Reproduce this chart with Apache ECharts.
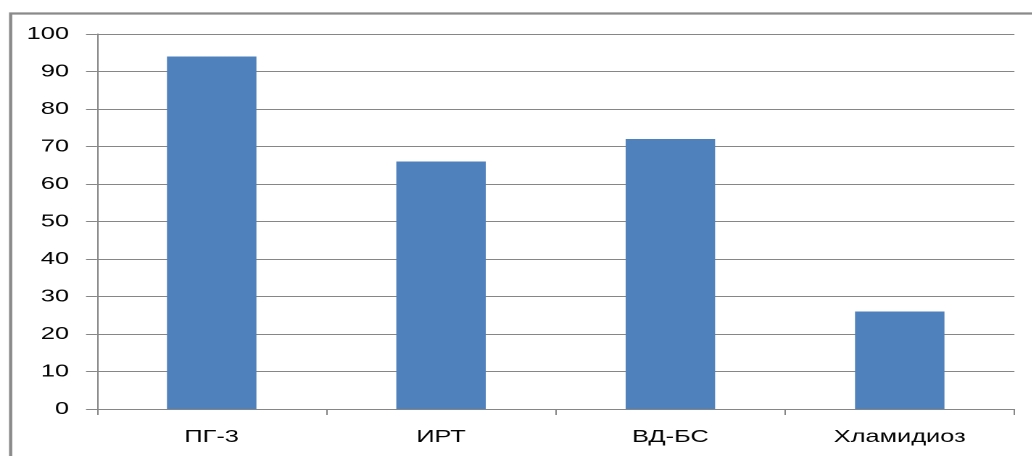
<!DOCTYPE html>
<html>
<head>
<meta charset="utf-8">
<script src="https://cdn.jsdelivr.net/npm/echarts@6/dist/echarts.min.js"></script>
<style>
  html, body { margin: 0; padding: 0; background: #fff; overflow: hidden; }
  #wrap { width: 1033px; height: 456px; overflow: hidden; position: relative; }
  /* The chart is laid out narrower and widened horizontally, giving the wide lettering */
  #chart { position: absolute; left: 0; top: 0; height: 456px; transform-origin: 0 0; }
</style>
</head>
<body>
<div id="wrap"><div id="chart"></div></div>
<script>
// Categories and their values
const categories = ['ПГ-3', 'ИРТ', 'ВД-БС', 'Хламидиоз'];
const values = [94, 66, 72, 26];

// Value axis range
const yMin = 0;
const yMax = 100;
const yStep = 10;

const stretch = 1.45;
const el = document.getElementById('chart');
el.style.width = (1033 / stretch) + 'px';
el.style.transform = 'scaleX(' + stretch + ')';

const chart = echarts.init(el, null, { renderer: 'canvas', devicePixelRatio: 2 });

const axisGray = '#868686';
const textStyle = { color: '#050505', fontFamily: 'Liberation Sans, Arial, sans-serif', fontSize: 17.5 };

chart.setOption({
  animation: false,
  backgroundColor: '#ffffff',
  graphic: [{
    type: 'rect',
    left: 7 / stretch,
    top: 11,
    shape: { width: 800, height: 480 },
    style: { fill: 'none', stroke: '#8a8a8a', lineWidth: 2.2 },
    silent: true
  }],
  grid: { left: 97 / stretch, right: 18 / stretch, top: 34, bottom: 47, containLabel: false },
  xAxis: {
    type: 'category',
    data: categories,
    boundaryGap: true,
    axisLine: { show: true, lineStyle: { color: axisGray, width: 1 } },
    axisTick: { show: true, alignWithLabel: false, length: 6, lineStyle: { color: axisGray } },
    axisLabel: Object.assign({ margin: 19 }, textStyle),
    splitLine: { show: false }
  },
  yAxis: {
    type: 'value',
    min: yMin,
    max: yMax,
    interval: yStep,
    axisLine: { show: true, lineStyle: { color: axisGray, width: 1 } },
    axisTick: { show: true, inside: false, length: 11 / stretch, lineStyle: { color: axisGray } },
    axisLabel: Object.assign({ margin: 28 / stretch }, textStyle),
    splitLine: { show: true, lineStyle: { color: axisGray, width: 1 } }
  },
  series: [{
    type: 'bar',
    data: values,
    barWidth: '39%',
    itemStyle: { color: '#4F81BD' }
  }]
});
</script>
</body>
</html>
